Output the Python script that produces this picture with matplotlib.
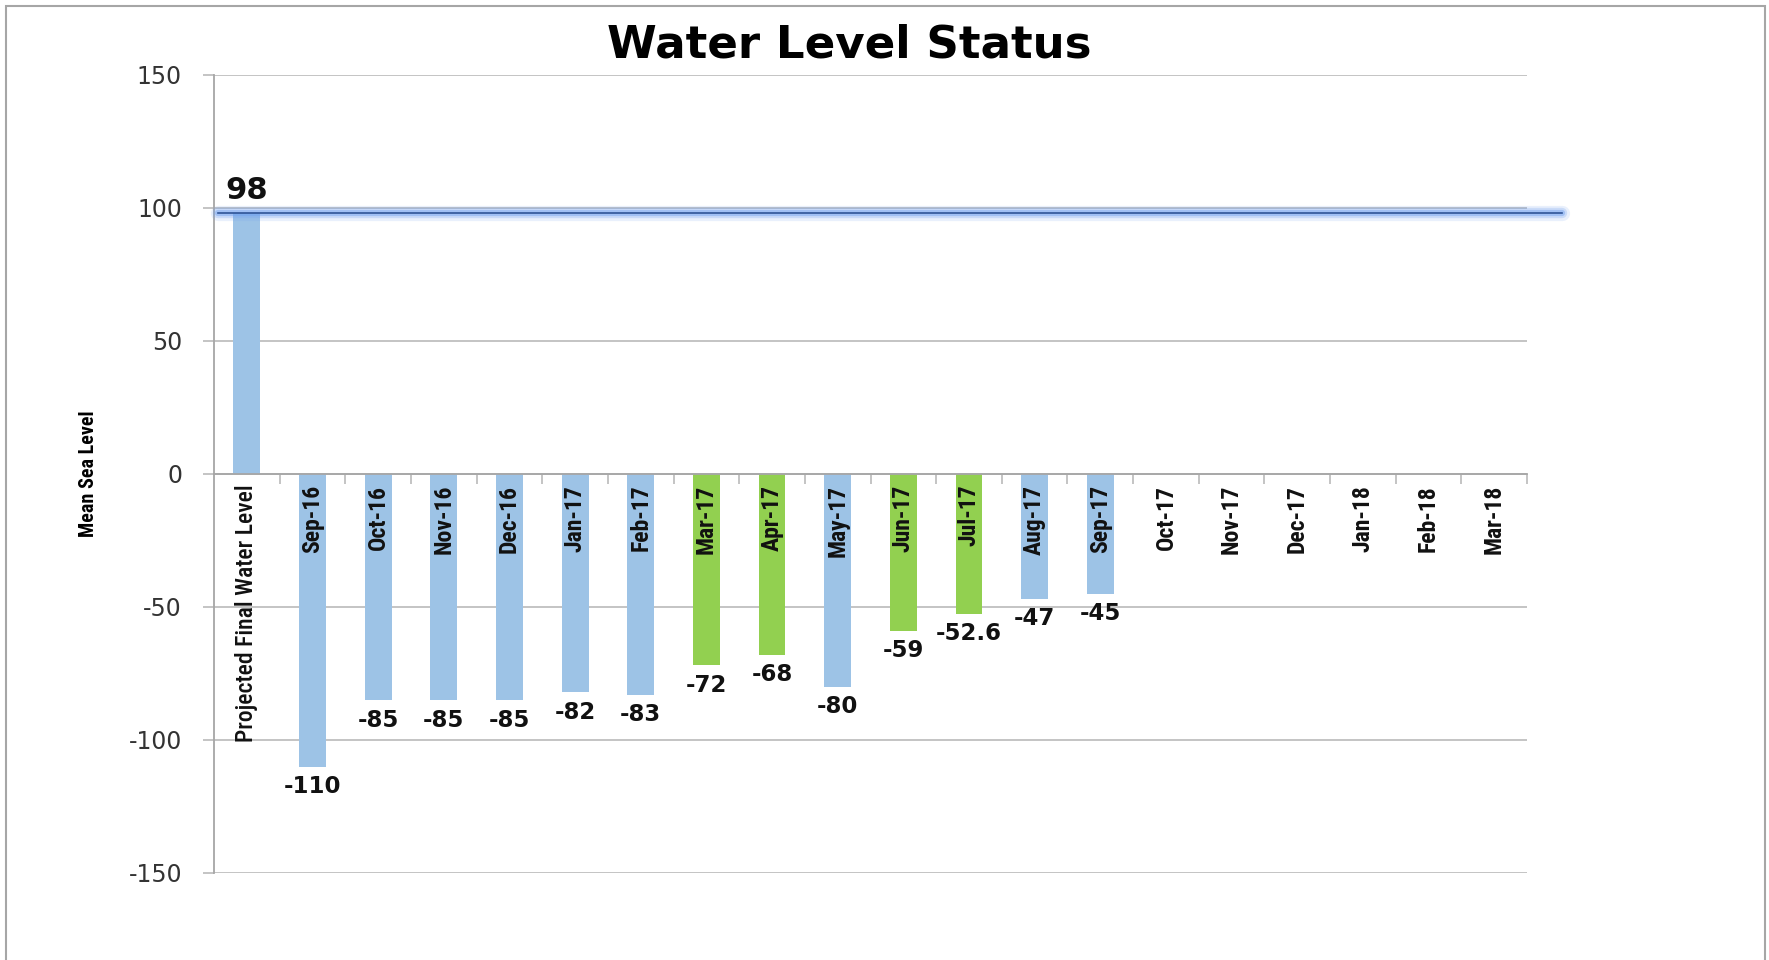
import matplotlib
matplotlib.use("Agg")
import matplotlib.pyplot as plt
import numpy as np
from matplotlib.patches import Rectangle

plt.rcParams['axes.unicode_minus'] = False

categories = ["Projected Final Water Level", "Sep-16", "Oct-16", "Nov-16", "Dec-16",
              "Jan-17", "Feb-17", "Mar-17", "Apr-17", "May-17", "Jun-17", "Jul-17",
              "Aug-17", "Sep-17", "Oct-17", "Nov-17", "Dec-17", "Jan-18", "Feb-18", "Mar-18"]
values = [98, -110, -85, -85, -85, -82, -83, -72, -68, -80, -59, -52.6, -47, -45,
          None, None, None, None, None, None]
highlight = ["Mar-17", "Apr-17", "Jun-17", "Jul-17"]
target_level = 98
yticks = [-150, -100, -50, 0, 50, 100, 150]

BLUE = "#9DC3E6"
GREEN = "#92D050"
GRID = "#BFBFBF"
NARROW = ["Roboto Condensed", "PT Sans Narrow", "DejaVu Sans"]

fig = plt.figure(figsize=(17.69, 9.6), dpi=100)
ax = fig.add_axes([214/1769, 1-873/960, (1527-214)/1769, (873-74.5)/960])

x = np.arange(len(categories))
for xi, cat, v in zip(x, categories, values):
    if v is None:
        continue
    col = GREEN if cat in highlight else BLUE
    ax.bar(xi, v, width=0.41, color=col, zorder=2)
    if v > 0:
        ax.annotate(f"{v:g}", (xi, v), xytext=(0, 16), textcoords="offset points",
                    ha="center", va="center", fontsize=22, fontweight="bold",
                    color="#111111", zorder=5)
    else:
        ax.annotate(f"{v:g}", (xi, v), xytext=(0, -14.5), textcoords="offset points",
                    ha="center", va="center", fontsize=16.5, fontweight="bold",
                    color="#111111", zorder=5)

# category labels, drawn on top of bars
for i, (xi, cat) in enumerate(zip(x, categories)):
    ax.annotate(cat, (xi, 0), xytext=(0, -8), textcoords="offset points",
                rotation=90, ha="center", va="top", fontsize=17,
                fontweight=500 if i == 0 else "bold",
                family=NARROW, color="#111111", zorder=6)

# target line with glow
x0, x1 = -0.44, 20.03
for lw, a in [(11, 0.15), (7.5, 0.25), (4.5, 0.45)]:
    ax.plot([x0, x1], [target_level, target_level], color="#6FA0F0", lw=lw, alpha=a,
            clip_on=False, solid_capstyle="round", zorder=3)
ax.plot([x0, x1], [target_level, target_level], color="#2F5597", lw=1.2,
        clip_on=False, zorder=4)

ax.set_xlim(-0.5, len(categories) - 0.5)
ax.set_ylim(-150, 150)
ax.set_yticks(yticks)
ax.set_yticklabels([str(t) for t in yticks], fontsize=17, color="#333333")
ax.yaxis.grid(True, color=GRID, lw=1.3, zorder=0)
ax.set_axisbelow(True)
ax.tick_params(axis="y", length=8, width=1.3, color=GRID, pad=15)

ax.spines["bottom"].set_position(("data", 0))
for s in ["top", "right"]:
    ax.spines[s].set_visible(False)
for s in ["left", "bottom"]:
    ax.spines[s].set_color("#A6A6A6")
    ax.spines[s].set_linewidth(1.3)

ax.set_xticks(x)
ax.set_xticklabels([])
ax.set_xticks(np.arange(0.5, len(categories), 1), minor=True)
ax.tick_params(axis="x", which="major", length=0)
ax.tick_params(axis="x", which="minor", length=7, width=1.3, color=GRID)

fig.text(849/1769, 1-45/960, "Water Level Status", ha="center", va="center",
         fontsize=32.5, fontweight="bold", color="#000000")
fig.text(88/1769, 1-474/960, "Mean Sea Level", rotation=90, ha="center", va="center",
         fontsize=14.5, fontweight="bold", family=NARROW, color="#000000")

fig.add_artist(Rectangle((6/1769, -0.01), (1765-6)/1769, 1.01-6/960,
                         transform=fig.transFigure, fill=False,
                         edgecolor="#A6A6A6", lw=1.5))

fig.savefig("out.png", dpi=100)
